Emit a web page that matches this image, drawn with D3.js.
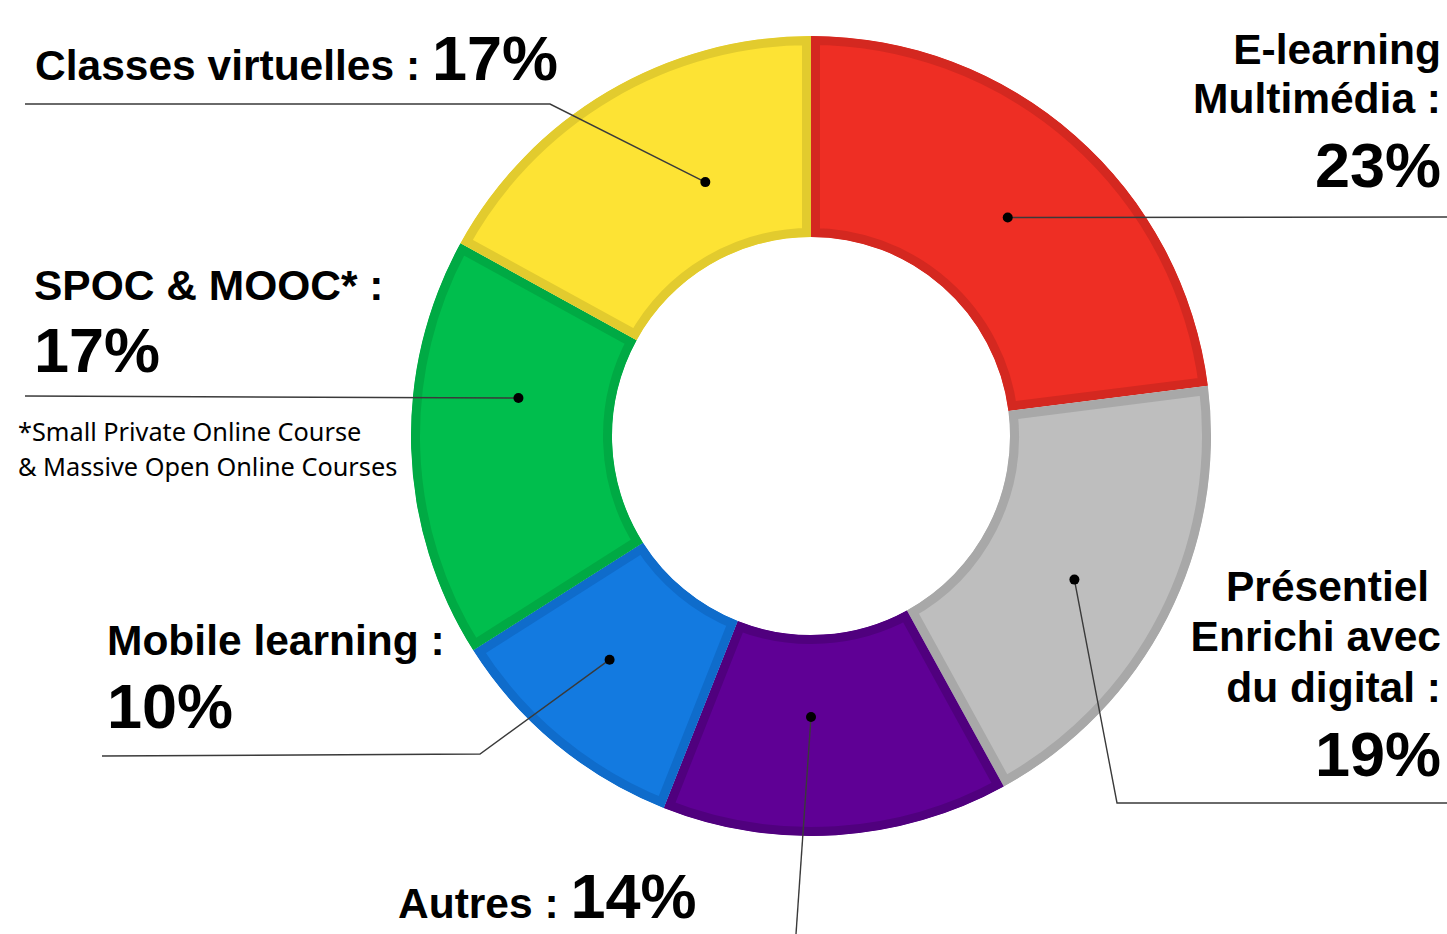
<!DOCTYPE html>
<html>
<head>
<meta charset="utf-8">
<script src="https://cdn.jsdelivr.net/npm/d3@7"></script>
<style>
  html, body { margin: 0; padding: 0; background: #fff; overflow: hidden; }
  text { font-family: "Liberation Sans", Arial, sans-serif; font-weight: bold; fill: #000; }
  .note { font-family: "Noto Sans", "Open Sans", sans-serif; font-weight: normal; }
</style>
</head>
<body>
<div id="chart"></div>
<script>
// slices, clockwise from 12 o'clock
const categories = ["E-learning Multimédia", "Présentiel Enrichi avec du digital", "Autres", "Mobile learning", "SPOC & MOOC*", "Classes virtuelles"];
const shares = [23, 19, 14, 10, 17, 17];
const titleLines = [
  ["E-learning", "Multimédia :"],
  ["Présentiel\u00a0", "Enrichi avec", "du digital :"],
  ["Autres : "],
  ["Mobile learning :"],
  ["SPOC & MOOC* :"],
  ["Classes virtuelles : "]
];
const footnote = ["*Small Private Online Course", "& Massive Open Online Courses"];

const fills   = ["#ee2e24", "#bebebe", "#5f0095", "#137ae0", "#00be4d", "#fde334"];
const borders = ["#d42820", "#a8a8a8", "#50007e", "#0f6ccb", "#00aa44", "#e2cb2e"];

// label layout: anchor, x, title baselines, value position (inline if same line)
const layout = [
  { anchor: "end",   x: 1441, ys: [64, 113],       vy: 187, inline: false, dot: [42, 294],    path: [[1447, 217]] },
  { anchor: "end",   x: 1441, ys: [601, 651, 702], vy: 776, inline: false, dot: [118.6, 300], path: [[1117, 803], [1447, 803]] },
  { anchor: "start", x: 398,  ys: [918],           vy: 918, inline: true,  dot: [180, 281],   path: [[796, 934]] },
  { anchor: "start", x: 107,  ys: [655],           vy: 728, inline: false, dot: [222, 301],   path: [[480, 754], [102, 756]] },
  { anchor: "start", x: 34,   ys: [300],           vy: 372, inline: false, dot: [277.4, 295], path: [[25, 396]] },
  { anchor: "start", x: 35,   ys: [80],            vy: 80,  inline: true,  dot: [337.4, 275], path: [[550, 104], [25, 104]] }
];

const width = 1447, height = 934;
const cx = 811, cy = 436, outerR = 400, innerR = 199, borderW = 9;
const titleSize = 42.5, valueSize = 63;

const svg = d3.select("#chart").append("svg")
  .attr("width", width)
  .attr("height", height);

const pie = d3.pie().sort(null).value(d => d);
const arcs = pie(shares);
const arc = d3.arc().innerRadius(innerR).outerRadius(outerR);

const ring = svg.append("g").attr("transform", `translate(${cx},${cy})`);
const defs = svg.append("defs");

// clip each slice to itself so the thick stroke only shows on the inside
arcs.forEach((d, i) => {
  defs.append("clipPath").attr("id", "clip" + i)
    .append("path").attr("d", arc(d));
});

ring.selectAll("path.slice")
  .data(arcs)
  .enter().append("path")
    .attr("class", "slice")
    .attr("d", arc)
    .attr("fill", (d, i) => fills[i])
    .attr("stroke", (d, i) => borders[i])
    .attr("stroke-width", borderW * 2)
    .attr("clip-path", (d, i) => `url(#clip${i})`);

// leader lines + dots
function polar(angleDeg, r) {
  const a = angleDeg * Math.PI / 180;
  return [cx + r * Math.sin(a), cy - r * Math.cos(a)];
}

const line = d3.line();
layout.forEach((l, i) => {
  const p0 = polar(l.dot[0], l.dot[1]);
  svg.append("path")
    .attr("d", line([p0].concat(l.path)))
    .attr("fill", "none")
    .attr("stroke", "#3a3a3a")
    .attr("stroke-width", 1.4);
  svg.append("circle")
    .attr("cx", p0[0]).attr("cy", p0[1])
    .attr("r", 5)
    .attr("fill", "#000");
});

// labels
layout.forEach((l, i) => {
  const g = svg.append("g");
  const lines = titleLines[i];
  lines.forEach((t, j) => {
    const txt = g.append("text")
      .attr("x", l.x).attr("y", l.ys[j])
      .attr("text-anchor", l.anchor)
      .style("font-size", titleSize + "px");
    txt.append("tspan").text(t);
    if (l.inline && j === lines.length - 1) {
      txt.append("tspan").style("font-size", valueSize + "px").text(shares[i] + "%");
    }
  });
  if (!l.inline) {
    g.append("text")
      .attr("x", l.x).attr("y", l.vy)
      .attr("text-anchor", l.anchor)
      .style("font-size", valueSize + "px")
      .text(shares[i] + "%");
  }
});

svg.selectAll("text.note")
  .data(footnote)
  .enter().append("text")
    .attr("class", "note")
    .attr("x", 18)
    .attr("y", (d, i) => 441 + i * 35)
    .style("font-size", "25.3px")
    .text(d => d);
</script>
</body>
</html>
